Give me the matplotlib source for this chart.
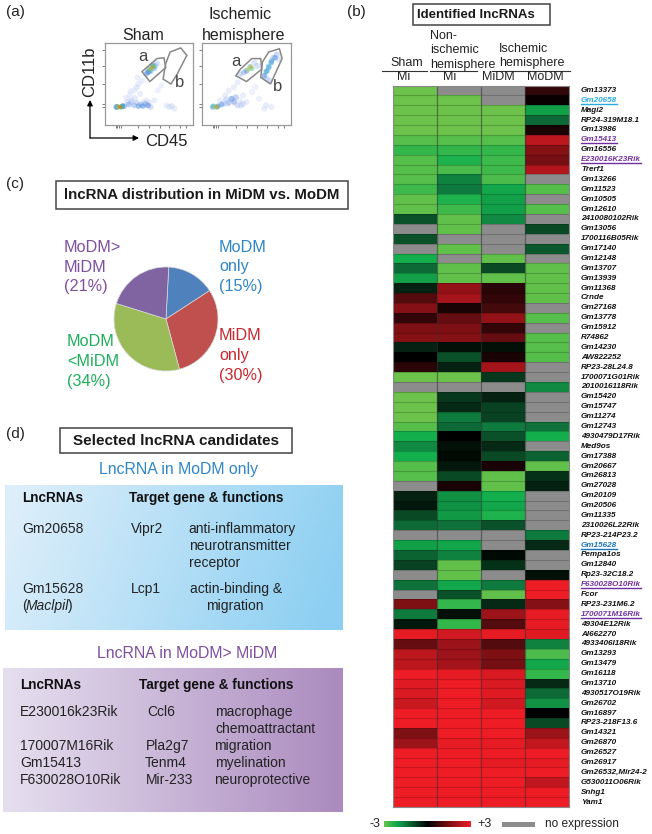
import numpy as np
import matplotlib
matplotlib.use("Agg")
import matplotlib.pyplot as plt
from matplotlib.colors import LinearSegmentedColormap

plt.rcParams['font.family'] = ['Liberation Sans', 'DejaVu Sans']

W, H = 652, 834
N = np.nan

# heatmap values, -3..+3, nan = no expression
genes = ["Gm13373", "Gm20658", "Magi2", "RP24-319M18.1", "Gm13986", "Gm15413", "Gm16556", "E230016K23Rik",
         "Trerf1", "Gm13266", "Gm11523", "Gm10505", "Gm12610", "2410080102Rik", "Gm13056", "1700116B05Rik",
         "Gm17140", "Gm12148", "Gm13707", "Gm13939", "Gm11368", "Crnde", "Gm27168", "Gm13778", "Gm15912",
         "R74862", "Gm14230", "AW822252", "RP23-28L24.8", "1700071G01Rik", "2010016118Rik", "Gm15420",
         "Gm15747", "Gm11274", "Gm12743", "4930479D17Rik", "Med9os", "Gm17388", "Gm20667", "Gm26813",
         "Gm27028", "Gm20109", "Gm20506", "Gm11335", "2310026L22Rik", "RP23-214P23.2", "Gm15628",
         "Pempa1os", "Gm12840", "Rp23-32C18.2", "F630028O10Rik", "Fcor", "RP23-231M6.2", "1700071M16Rik",
         "49304E12Rik", "AI662270", "4933406I18Rik", "Gm13293", "Gm13479", "Gm16118", "Gm13710",
         "4930517O19Rik", "Gm26702", "Gm16897", "RP23-218F13.6", "Gm14321", "Gm26870", "Gm26527", "Gm26917",
         "Gm26532,Mir24-2", "G530011O06Rik", "Snhg1", "Yam1"]
sham_mi = [-3, -3, -3, -3, -3, -2.8, -2.5, -2.8, -2.8, -2.8, -2.6, -2.9, -2.9, -1, N, -1, N, -2.2, -1.3, -2,
           -.4, 1, 1.6, .6, 1.5, 1.6, -.4, 0, .5, -3, N, -3, -3, -3, -2.8, -2.2, -1.7, -2.2, -2.8, -2.8,
           N, -.4, -.3, -.9, -1.3, N, -2, -1.2, -.8, N, -1.4, N, 1.5, -1.5, -.3, 2.9, 1.2, 2.3, 2.3, 3, 2.8,
           2.7, 2.5, 3, 3, 1.5, 1.9, 3, 3, 3, 3, 3, 3]
nonisch_mi = [N, -3, -3, -3, -3, -2.8, -2.5, -2.3, -2.7, -1.6, -1.5, -2.3, -2.6, -2.9, -2.9, N, -2.9, N, -2.9, -2.9,
              1.8, 2, .3, 1.2, 1.5, 1.6, -.2, -1, -.4, -3, N, -.7, -.5, -1.5, -1.3, 0, -.2, -.1, -.3, -.9,
              .3, -1.8, -1.8, -1.9, -1.4, N, -2.1, -1.6, -2.9, -2.9, -2.1, -1, -2.5, -.2, -2.5, 2.6, 1.9, 1.9, 2,
              2.9, 3, 3, 3, 3, 3, 3, 2.9, 3, 3, 3, 3, 3, 3]
midm = [N, N, -3, -3, -3, -2.8, -2.5, -2.6, -2.6, -2.7, -2.1, -2, -2, -1.7, N, N, N, -2.9, -.9, -2.9,
        .5, .6, .8, 1.8, .6, 1.2, -.2, .3, 2, -.7, N, -.4, -.8, -.8, -1.5, -1, -.5, -.9, .3, -2.9,
        -2.9, -2.2, -2.1, -2.3, -1, N, N, -.1, -.6, N, -1.5, -2.9, -.5, 1.9, 1, 2.9, 1, 1.5, 1.4, 2.7, 2.7,
        2.8, 2.6, 3, 3, 3, 2.9, 3, 2.9, 3, 3, 3, 3]
modm = [.6, .1, -2, -1.3, .3, 2.3, 1.6, 1.4, 2.2, N, -2.8, N, -2.8, N, -.9, N, -1.1, N, -2.9, -2.9,
        -2.9, -2.9, N, -2.8, N, -2.8, -2.8, -2.8, N, N, -1.7, N, N, N, -1.4, -2.2, N, -1.2, -2.9, -.6,
        -.4, N, N, N, N, -1.5, -.5, N, N, -.2, 3, 3, 1.6, 2.9, 2.9, 2.8, -1.6, -2.7, -2.1, -2.5, -.5,
        -1.3, -1.8, 0, -.9, 1.9, 2.4, 3, 2.9, 3, 2.4, 3, 3]
gene_colors = {"Gm20658": "#29abe2", "Gm15628": "#1c75bc", "Gm15413": "#7030a0", "E230016K23Rik": "#7030a0",
               "F630028O10Rik": "#7030a0", "1700071M16Rik": "#7030a0"}

# pie
pie_labels = ["MoDM only", "MiDM only", "MoDM <MiDM", "MoDM> MiDM"]
pie_values = [15, 30, 34, 21]
pie_colors = ["#4f81bd", "#c0504d", "#9bbb59", "#8064a2"]

# flow plots, points: CD45, CD11b, density level
sham_x = [28, 33, 38, 36, 42, 30, 26, 34, 40, 44, 37, 29, 24, 47, 50, 73, 76, 79, 70, 60, 64, 56, 48, 52, 27, 33, 38,
          43, 49, 30, 36, 41, 46, 22, 13, 20, 47, 50, 57, 59, 54, 48, 52, 56, 50, 54, 53, 51, 55, 13, 20, 14, 19, 15, 18, 16, 17]
sham_y = [36, 42, 50, 46, 54, 30, 28, 33, 38, 28, 58, 41, 33, 30, 27, 22, 23, 20, 24, 42, 48, 30, 24, 22, 25, 24, 23,
          23, 24, 28, 27, 25, 26, 23, 22, 23, 62, 65, 72, 75, 73, 64, 66, 69, 68, 72, 70, 68, 71, 22, 23, 22, 22, 22, 22, 22, 22]
sham_lvl = [.05, .05, .05, .08, .05, .1, .1, .08, .05, .05, .05, .05, .05, .05, .05, .08, .08, .05, .05, .03, .03, .05,
            .15, .15, .22, .2, .3, .32, .25, .12, .15, .2, .2, .2, .2, .35, .2, .28, .2, .15, .3, .28, .35, .4, .4, .48, .8, .65, .6,
            .3, .3, .4, .45, .6, .55, .75, .85]
isch_x = [20, 26, 30, 36, 40, 46, 34, 28, 42, 50, 56, 60, 72, 78, 70, 64, 36, 30, 24, 40, 46, 33, 27, 38, 44, 22, 70,
          73, 76, 80, 84, 86, 72, 75, 78, 82, 70, 73, 75, 78, 43, 47, 62, 59, 50, 54, 56, 52, 55, 12, 17, 13, 18, 15, 17]
isch_y = [30, 36, 42, 46, 52, 36, 32, 26, 30, 28, 40, 46, 24, 22, 20, 32, 28, 27, 26, 24, 26, 32, 31, 34, 24, 25, 60,
          56, 54, 82, 86, 80, 65, 70, 76, 82, 60, 66, 72, 78, 62, 64, 72, 76, 66, 71, 69, 68, 71, 22, 22, 23, 23, 22, 22]
isch_lvl = [.05, .05, .05, .05, .05, .05, .08, .08, .05, .05, .03, .03, .05, .05, .05, .03, .25, .2, .15, .15, .12, .25, .15, .2, .12, .25,
            .15, .15, .12, .15, .18, .12, .35, .3, .3, .3, .25, .38, .42, .35, .15, .2, .15, .12, .3, .4, .5, .65, .75, .3, .4, .45, .35, .65, .8]

# text of panel d
modm_rows = [("Gm20658", "Vipr2"), ("Gm15628", "Lcp1")]
mix_rows = [("E230016k23Rik", "Ccl6", "macrophage"), ("170007M16Rik", "Pla2g7", "migration"),
            ("Gm15413", "Tenm4", "myelination"), ("F630028O10Rik", "Mir-233", "neuroprotective")]


def px_axes(x0, y0, x1, y1):
    # axes placed by pixel box, y counted from the top
    return fig.add_axes([x0 / W, 1 - y1 / H, (x1 - x0) / W, (y1 - y0) / H])


fig = plt.figure(figsize=(W / 100, H / 100), dpi=100)
page = fig.add_axes([0, 0, 1, 1], zorder=10)
page.set_xlim(0, W)
page.set_ylim(H, 0)
page.axis('off')


def txt(x, y, s, size=10, color="#222222", ha="left", **kw):
    return page.text(x, y, s, fontsize=size, color=color, ha=ha, va="center", **kw)


def title_box(x0, y0, x1, y1, s, size, text_x=None):
    page.add_patch(plt.Rectangle((x0, y0), x1 - x0, y1 - y0, fc="white", ec="#444444", lw=1.1))
    if text_x is None:
        text_x = (x0 + x1) / 2
    txt(text_x, (y0 + y1) / 2, s, size=size, ha="center", fontweight="bold", color="#1a1a1a")


# (a) flow plots
flow_cmap = LinearSegmentedColormap.from_list("flow", ["#e6ebfa", "#a9bff0", "#3f7bdc", "#22b8c8", "#4fc84a", "#f2d820", "#f05a20"])


def flow_plot(box, xs, ys, lvls, gates):
    ax = px_axes(*box)
    order = np.argsort(lvls)
    xs, ys, lvls = np.array(xs)[order], np.array(ys)[order], np.array(lvls)[order]
    ax.scatter(xs, ys, c=lvls, cmap=flow_cmap, vmin=0, vmax=.85, s=20 - 12 * lvls, alpha=.45, lw=0)
    for g in gates:
        ax.add_patch(plt.Polygon(g, closed=True, fill=False, ec="#888888", lw=1.1))
    ax.set_xlim(0, 100)
    ax.set_ylim(0, 100)
    ax.set_xticks([12, 14, 16, 18, 38, 50, 62, 73, 85, 92])
    ax.set_yticks([22, 25, 50, 72, 92])
    ax.tick_params(length=2, width=.6, color="#666666", labelbottom=False, labelleft=False, pad=1)
    for sp in ax.spines.values():
        sp.set_color("#999999")
        sp.set_linewidth(.9)


flow_plot((105, 43, 193, 125), sham_x, sham_y, sham_lvl,
          [[(42, 65), (51, 53), (69, 70), (67, 82), (59, 81)],
           [(74, 89), (86, 94), (93, 85), (82, 62), (75, 50), (66, 56), (69, 75)]])
flow_plot((202, 43, 291, 125), isch_x, isch_y, isch_lvl,
          [[(38, 60), (50, 53), (67, 68), (66, 81), (56, 81), (43, 68)],
           [(66, 58), (77, 50), (90, 81), (87, 93), (75, 89), (68, 77)]])

txt(6, 12, "(a)", size=11)
txt(143, 35, "Sham", size=11.5, ha="center")
txt(240, 14, "Ischemic", size=11.5, ha="center")
txt(244, 35, "hemisphere", size=11.5, ha="center")
txt(90, 72, "CD11b", size=12, ha="center", rotation=90)
txt(166, 141, "CD45", size=12, ha="center")
txt(143, 56, "a", size=12, ha="center", color="#444444")
txt(180, 82, "b", size=12, ha="center", color="#444444")
txt(236, 61, "a", size=12, ha="center", color="#444444")
txt(278, 86, "b", size=12, ha="center", color="#444444")
for tip in [(90, 100), (139, 138)]:
    page.annotate("", xy=tip, xytext=(90, 138), arrowprops=dict(arrowstyle="-|>", color="black", lw=.9, shrinkA=0, shrinkB=0, mutation_scale=8))

# (b) heatmap
heat_cmap = LinearSegmentedColormap.from_list(
    "heat", [(0, "#6cc24a"), (.13, "#12b04c"), (.25, "#0f7a3e"), (.5, "#000000"), (.75, "#7d1014"), (1, "#ee1c25")])
heat_cmap.set_bad("#8c8c8c")
values = np.ma.masked_invalid(np.array([sham_mi, nonisch_mi, midm, modm]).T)
ax = px_axes(393, 85.5, 569, 807)
ax.pcolormesh(np.arange(5), np.arange(len(genes) + 1), values, cmap=heat_cmap, vmin=-3, vmax=3)
ax.set_xlim(0, 4)
ax.set_ylim(len(genes), 0)
ax.set_xticks([])
ax.set_yticks([])
ax.hlines(np.arange(1, len(genes)), 0, 4, color="black", alpha=.18, lw=.8)
ax.vlines([1, 2, 3], 0, len(genes), color="#333333", alpha=.55, lw=.9)
for sp in ax.spines.values():
    sp.set_color("#888888")
    sp.set_linewidth(.8)

txt(347, 12, "(b)", size=11)
title_box(413, 4, 550, 25, "Identified lncRNAs", 9.5, text_x=476)
txt(407, 63, "Sham", size=9, ha="center")
txt(404, 77, "Mi", size=9, ha="center")
txt(430, 36, "Non-", size=9)
txt(430, 50, "ischemic", size=9)
txt(430, 65, "hemisphere", size=9)
txt(450, 77, "Mi", size=9, ha="center")
txt(499, 49, "Ischemic", size=9)
txt(499, 63, "hemisphere", size=9)
txt(498, 77, "MiDM", size=9, ha="center")
txt(545, 77, "MoDM", size=9, ha="center")
for x0, x1 in [(382, 427), (430, 477), (492, 570)]:
    page.plot([x0, x1], [71, 71], color="#333333", lw=.8)

row_h = (807 - 85.5) / len(genes)
gene_texts = []
for i, g in enumerate(genes):
    t = txt(581, 85.5 + (i + .5) * row_h, g, size=5.9, color=gene_colors.get(g, "#111111"), fontweight="bold", fontstyle="italic")
    if g in gene_colors:
        gene_texts.append((t, 85.5 + (i + 1) * row_h - 1.5, gene_colors[g]))

# colour key
key = px_axes(384, 821, 470, 827)
key.imshow(np.linspace(-3, 3, 256)[None, :], cmap=heat_cmap, vmin=-3, vmax=3, aspect="auto")
key.axis('off')
page.add_patch(plt.Rectangle((502, 822), 33, 5, fc="#8c8c8c", ec="none"))
txt(380, 824, "-3", size=9, ha="right")
txt(477, 824, "+3", size=9)
txt(545, 824, "no expression", size=8.6)

# (c) pie
txt(6, 184, "(c)", size=11)
title_box(56, 181, 348, 209, "lncRNA distribution in MiDM vs. MoDM", 10.8)
ax = px_axes(114, 267, 218, 371)
ax.pie(pie_values, colors=pie_colors, startangle=87, counterclock=False, radius=1,
       wedgeprops=dict(ec="#d8d8d8", lw=.5))
ax.set_xlim(-1, 1)
ax.set_ylim(-1, 1)

pie_text = [(64, 247, ["MoDM>", "MiDM", "(21%)"], "#7f4fa0"), (219, 247, ["MoDM", "only", "(15%)"], "#2f86c8"),
            (67, 341, ["MoDM", "<MiDM", "(34%)"], "#1fae5c"), (219, 335, ["MiDM", "only", "(30%)"], "#c8282e")]
for x, y, lines, c in pie_text:
    for j, line in enumerate(lines):
        txt(x, y + j * 20, line, size=11.7, color=c)

# (d) tables
txt(6, 434, "(d)", size=11)
title_box(60, 428, 292, 453, "Selected lncRNA candidates", 11)
txt(179, 469, "LncRNA in MoDM only", size=11.4, ha="center", color="#2f86c8")
txt(187, 654, "LncRNA in MoDM> MiDM", size=11.4, ha="center", color="#7f4fa0")

blue = LinearSegmentedColormap.from_list("b", ["#dceefa", "#8ccff2"])
purple = LinearSegmentedColormap.from_list("p", ["#e6dfef", "#ab8bbf"])
gx, gy = np.meshgrid(np.linspace(0, 1, 120), np.linspace(0, 1, 60))
box = px_axes(5, 485, 343, 630)
box.imshow(np.clip(gx * .95 + (1 - gy) * .15 - .05, 0, 1), cmap=blue, vmin=0, vmax=1, aspect="auto", origin="lower")
box.axis('off')
box = px_axes(3, 668, 343, 812)
box.imshow(gx, cmap=purple, vmin=0, vmax=1, aspect="auto")
box.axis('off')

txt(22, 498, "LncRNAs", size=9.8, fontweight="bold", color="#111111")
txt(129, 498, "Target gene & functions", size=9.8, fontweight="bold", color="#111111")
txt(22, 529, modm_rows[0][0])
txt(131, 529, modm_rows[0][1])
txt(188, 529, "anti-inflammatory")
txt(189, 546, "neurotransmitter")
txt(189, 563, "receptor")
txt(22, 589, modm_rows[1][0])
txt(22, 606, "(")
txt(26, 606, "Maclpil", fontstyle="italic")
txt(68, 606, ")")
txt(131, 589, modm_rows[1][1])
txt(190, 589, "actin-binding &")
txt(206, 606, "migration")

txt(20, 685, "LncRNAs", size=9.8, fontweight="bold", color="#111111")
txt(139, 685, "Target gene & functions", size=9.8, fontweight="bold", color="#111111")
for (name, target, func), y, tx, fx in zip(mix_rows, [712, 746, 763, 780], [147, 146, 145, 146], [215, 214, 215, 214]):
    txt(20, y, name)
    txt(tx, y, target)
    txt(fx, y, func)
txt(215, 729, "chemoattractant")

# underlines need the drawn text widths
fig.canvas.draw()
r = fig.canvas.get_renderer()
for t, y, c in gene_texts:
    bb = t.get_window_extent(r)
    page.plot([bb.x0, bb.x1], [y, y], color=c, lw=1)

fig.savefig("out.png", dpi=100)
